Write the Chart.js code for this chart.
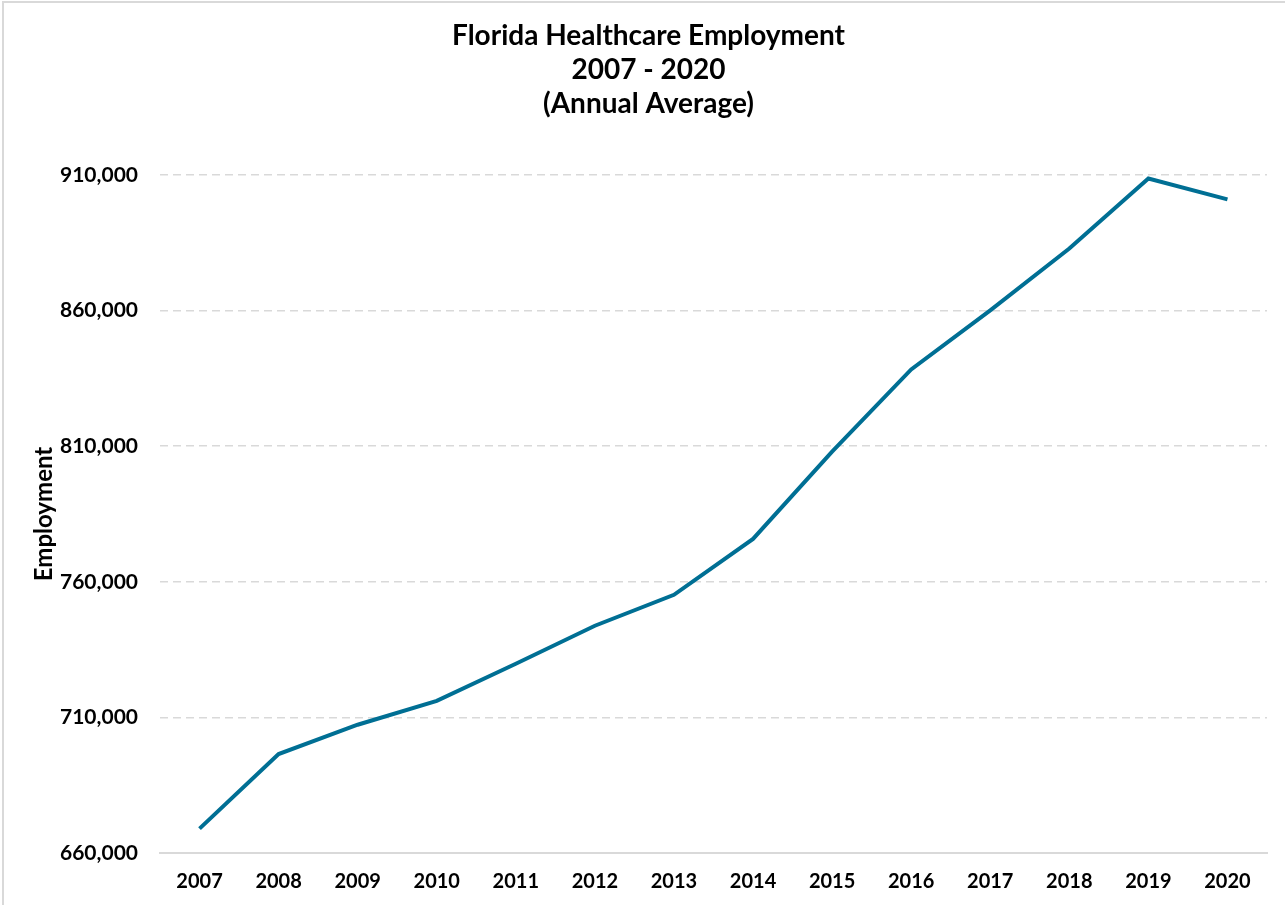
<!DOCTYPE html>
<html>
<head>
<meta charset="utf-8">
<script src="https://cdn.jsdelivr.net/npm/chart.js@4/dist/chart.umd.min.js"></script>
<style>
  html, body { margin: 0; padding: 0; background: #fff; overflow: hidden; }
  #wrap { position: relative; width: 1285px; height: 905px; }
  #frame {
    position: absolute; left: 2px; top: 1px; width: 1300px; height: 920px;
    border-left: 2px solid #d9d9d9; border-top: 2px solid #d9d9d9;
    pointer-events: none;
  }
</style>
</head>
<body>
<div id="wrap">
  <canvas id="empChart" width="1285" height="905"></canvas>
  <div id="frame"></div>
</div>
<script>
const years = ['2007', '2008', '2009', '2010', '2011', '2012', '2013',
               '2014', '2015', '2016', '2017', '2018', '2019', '2020'];
const employment = [669000, 696500, 707300, 716100, 729800, 743800, 755200,
                    775800, 808000, 838300, 860100, 882900, 908700, 901000];
const titleLines = ['Florida Healthcare Employment', '2007 - 2020', '(Annual Average)'];
const yMin = 660000;
const yMax = 910000;
const yStep = 50000;

const fontFamily = 'Lato, "Open Sans", sans-serif';

const ctx = document.getElementById('empChart').getContext('2d');
new Chart(ctx, {
  type: 'line',
  data: {
    labels: years,
    datasets: [{
      label: 'Employment',
      data: employment,
      borderColor: '#006f94',
      borderWidth: 4,
      pointRadius: 0,
      fill: false,
      tension: 0
    }]
  },
  options: {
    responsive: false,
    animation: false,
    layout: { padding: { left: 30, right: 18, top: 0, bottom: 0 } },
    plugins: {
      legend: { display: false },
      tooltip: { enabled: false },
      title: {
        display: true,
        text: titleLines,
        color: '#000',
        font: { family: fontFamily, size: 28, weight: 'bold', lineHeight: 1.214 },
        padding: { top: 19, bottom: 54 }
      }
    },
    scales: {
      x: {
        offset: true,
        grid: { display: false },
        border: { display: true, color: '#d9d9d9', width: 2 },
        ticks: {
          color: '#000',
          padding: 9,
          font: { family: fontFamily, size: 20, weight: 'bold' },
          maxRotation: 0
        },
        afterFit: scale => { scale.height = 52; }
      },
      y: {
        min: yMin,
        max: yMax,
        border: { display: false, dash: [8, 5] },
        grid: { color: '#d9d9d9', lineWidth: 1.5, drawTicks: false },
        title: {
          display: true,
          text: 'Employment',
          color: '#000',
          font: { family: fontFamily, size: 24, weight: 'bold' },
          padding: { top: 0, bottom: 6 }
        },
        ticks: {
          stepSize: yStep,
          color: '#000',
          padding: 22,
          font: { family: fontFamily, size: 21, weight: 'bold' },
          callback: v => v.toLocaleString('en-US')
        },
        afterFit: scale => { scale.width = 130; }
      }
    }
  }
});
</script>
</body>
</html>
